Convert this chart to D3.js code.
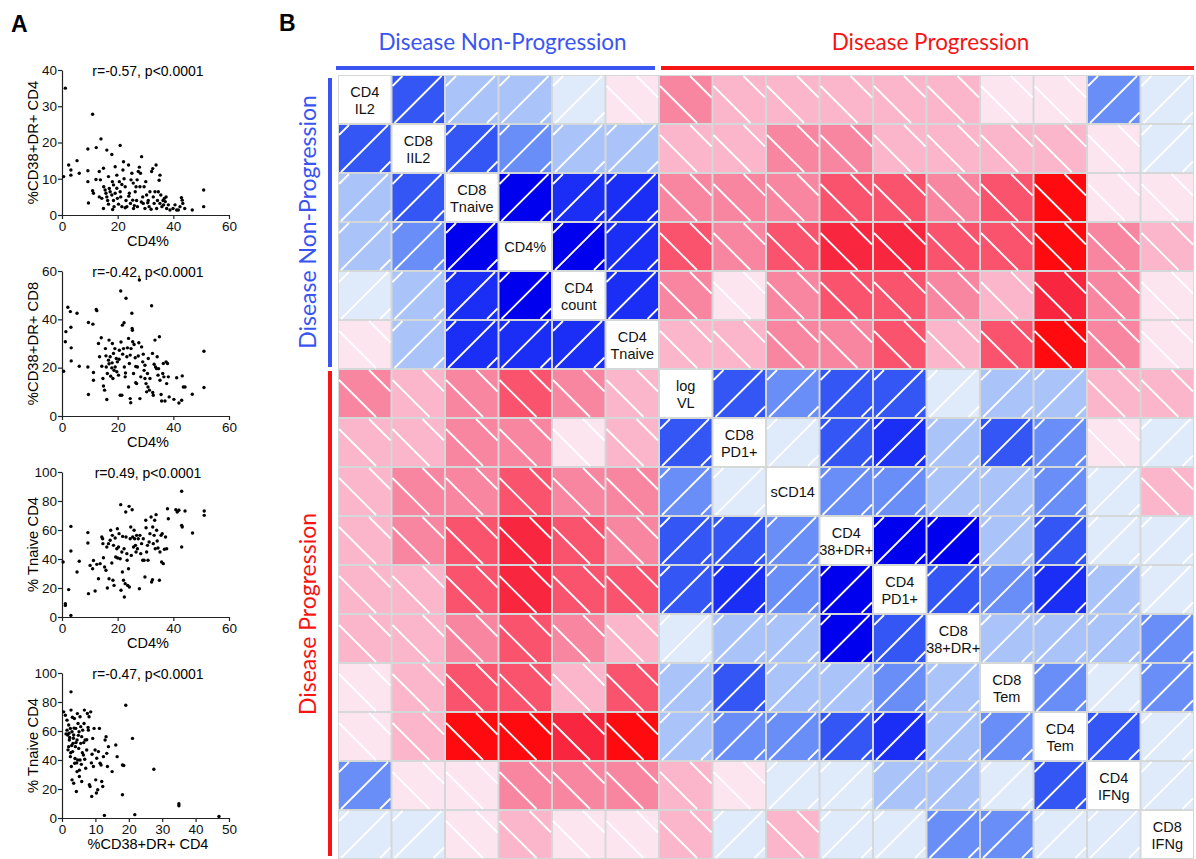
<!DOCTYPE html>
<html><head><meta charset="utf-8">
<script src="https://cdn.jsdelivr.net/npm/d3@7"></script>
<style>body{margin:0;background:#fff}svg{display:block}</style>
</head><body>
<svg id="chart" width="1196" height="859"></svg>
<script>
// ---------------- DATA ----------------
const variables = [["CD4","IL2"],["CD8","IIL2"],["CD8","Tnaive"],["CD4%"],["CD4","count"],["CD4","Tnaive"],
  ["log","VL"],["CD8","PD1+"],["sCD14"],["CD4","38+DR+"],["CD4","PD1+"],["CD8","38+DR+"],
  ["CD8","Tem"],["CD4","Tem"],["CD4","IFNg"],["CD8","IFNg"]];
const groupNames = ["Disease Non-Progression","Disease Progression"];
const groupStart = [0, 6];
const groupEnd = [5, 15];
// correlation estimates (positive = blue "/", negative = red "\")
const corr = [
 [null,.35,.15,.15,.05,-.05,-.25,-.15,-.15,-.15,-.15,-.15,-.05,-.05,.25,.05],
 [.35,null,.35,.25,.15,.15,-.15,-.15,-.25,-.25,-.15,-.15,-.15,-.15,-.05,.05],
 [.15,.35,null,.6,.45,.45,-.25,-.25,-.25,-.35,-.35,-.25,-.35,-.6,-.05,-.05],
 [.15,.25,.6,null,.6,.45,-.35,-.25,-.35,-.45,-.45,-.35,-.35,-.6,-.25,-.15],
 [.05,.15,.45,.6,null,.45,-.25,-.05,-.25,-.35,-.35,-.25,-.15,-.45,-.25,-.05],
 [-.05,.15,.45,.45,.45,null,-.15,-.15,-.25,-.25,-.35,-.15,-.35,-.6,-.25,-.05],
 [-.25,-.15,-.25,-.35,-.25,-.15,null,.35,.25,.35,.35,.05,.15,.15,-.15,-.15],
 [-.15,-.15,-.25,-.25,-.05,-.15,.35,null,.05,.35,.45,.15,.35,.25,-.05,.05],
 [-.15,-.25,-.25,-.35,-.25,-.25,.25,.05,null,.25,.25,.15,.15,.25,.05,-.15],
 [-.15,-.25,-.35,-.45,-.35,-.25,.35,.35,.25,null,.6,.6,.15,.35,.05,.05],
 [-.15,-.15,-.35,-.45,-.35,-.35,.35,.45,.25,.6,null,.35,.25,.45,.15,.05],
 [-.15,-.15,-.25,-.35,-.25,-.15,.05,.15,.15,.6,.35,null,.15,.15,.15,.25],
 [-.05,-.15,-.35,-.35,-.15,-.35,.15,.35,.15,.15,.25,.15,null,.25,.05,.25],
 [-.05,-.15,-.6,-.6,-.45,-.6,.15,.25,.25,.35,.45,.15,.25,null,.35,.05],
 [.25,-.05,-.05,-.25,-.25,-.25,-.15,-.05,.05,.05,.15,.15,.05,.35,null,.05],
 [.05,.05,-.05,-.15,-.05,-.05,-.15,.05,-.15,.05,.05,.25,.25,.05,.05,null]
];
const colorThresholds = [-0.5,-0.4,-0.3,-0.2,-0.1,0,0.1,0.2,0.3,0.4,0.5];
const colorSteps = ["#ff0a0f","#f8273f","#f9536e","#f986a1","#fbb6cb","#fde5ef",
                    "#dfeafb","#aac4f9","#6a8ef8","#3456f5","#1b2ef6","#0000ee"];

// Panel A scatter data: [x, y]
const scatterTitles = ["r=-0.57, p<0.0001","r=-0.42, p<0.0001","r=0.49, p<0.0001","r=-0.47, p<0.0001"];
const scatterXLabels = ["CD4%","CD4%","CD4%","%CD38+DR+ CD4"];
const scatterYLabels = ["%CD38+DR+ CD4","%CD38+DR+ CD8","% Tnaive CD4","% Tnaive CD4"];
const scatterXTicks = [[0,20,40,60],[0,20,40,60],[0,20,40,60],[0,10,20,30,40,50]];
const scatterYTicks = [[0,10,20,30,40],[0,20,40,60],[0,20,40,60,80,100],[0,20,40,60,80,100]];
const cd4pctVsCd4Act = [[1.2,35],[2.4,13.8],[0.6,10.6],[3.2,12.4],[3.2,11],[5.4,15],[6.2,11.5],[9.3,18.2],[9.3,12.2],[9.3,9.2],[9.5,3.3],[11,27.8],[11,6.7],[11.3,6],[12.3,18.6],[12.2,9.8],[13.4,12],[14,21],[14.9,12.9],[13.4,5],[14.3,4.6],[15,7.8],[16.1,17.9],[17.9,16.7],[15.5,6.9],[15.8,6],[16.1,5],[16.4,4],[16.7,3],[17,7.3],[17.3,6.4],[17.9,5.5],[18.1,9.2],[18.5,8.3],[18.5,4],[18.7,2.3],[19.1,6],[19.7,7.4],[19.9,4.6],[20.3,3],[20.6,9.2],[20.9,19.2],[21.1,5],[21.5,2.3],[21.9,12.4],[22.1,14.7],[22.3,10],[22.7,7.8],[23,4],[23.3,2.3],[23.9,13.8],[24.2,6],[24.6,3.2],[24.8,9.7],[25.1,11.5],[25.4,4.1],[25.7,1.8],[26.3,6.4],[26.6,7.8],[26.8,4],[27.1,2.3],[27.4,12],[27.8,13.2],[28,7.8],[28.6,16.1],[29,5],[29.2,3.2],[29.5,7.8],[29.8,1.8],[30.1,9.2],[30.4,5.5],[31,4],[31.3,2.3],[31.6,6.4],[32.2,12],[32.6,12.8],[32.8,5],[33.1,3.2],[33.4,6.4],[33.8,13.8],[34,1.8],[34.3,4],[34.6,6.4],[34.9,9.6],[35.2,3.2],[35.5,5.5],[35.9,2.3],[36.3,4],[36.5,2.8],[37.1,3.7],[37.4,5],[37.6,1.8],[38.2,2.8],[38.8,1.4],[39.9,1.8],[40.6,2.8],[41.2,1.4],[41.8,1.4],[42.4,2.3],[42.9,4.8],[43.2,4.1],[43.4,3.2],[44.1,1.8],[46.8,1.4],[50.9,6.9],[50.9,2.3],[35.2,11],[27,9.7],[28.2,11.5],[19.7,11],[19.1,13.3],[16.7,10.6],[13.8,9.7],[14.9,1.8],[20.9,6.4],[22.7,2],[24,5.2],[26,2.6],[30.8,3.4],[32,1.6],[36.8,4.6],[28.5,3.6],[21.5,8.4],[18.2,1.5],[25.6,8.8]];
const cd4pctVsCd8Act = [[0.6,18.5],[1.2,30.7],[1.4,34.9],[2.1,45],[3,43.2],[3.2,36.7],[3.3,28.2],[3.3,22.8],[5.4,42.5],[6.2,20.6],[9.5,38.7],[9.3,20.3],[9.5,8.9],[11.1,38],[11.3,18],[11.3,14.8],[12.3,44.1],[12.5,43.6],[13.1,30],[13.5,24.5],[14.1,32.4],[14.3,20.6],[14.7,15.5],[14.9,12.4],[15.3,10.7],[15.8,24.9],[15.9,20.3],[16.1,6.8],[16.3,17.6],[16.7,23.1],[16.9,31.4],[17.3,24.5],[17.5,16.5],[17.9,19.9],[18.1,30],[18.3,15.5],[18.5,25.9],[18.7,18.9],[19.1,20.3],[19.5,23.8],[19.7,18.3],[19.9,22.4],[20.3,16.9],[20.6,27.2],[20.9,8.6],[21.1,51.7],[21.5,8.6],[21.7,37.6],[21.8,25.6],[22.1,27.9],[22.3,38.6],[22.4,20.3],[22.7,16.2],[23,48.7],[23.3,24.5],[23.5,28.2],[23.9,32.1],[23.9,12],[24.2,21.7],[24.5,7.2],[24.7,5.5],[24.8,27.9],[25.1,42.5],[25.2,36.2],[25.3,35.5],[25.4,30.7],[25.7,17.6],[25.9,29.6],[26.3,24.1],[26.5,13.8],[26.8,13.4],[27.1,20.3],[27.4,24.8],[27.8,56.3],[28,7.2],[28.3,16.2],[28.6,28.6],[29,22.4],[29.2,25.6],[29.5,18.9],[29.8,15.5],[30.2,13.4],[30.4,10],[30.7,17.6],[30.9,12],[31.4,10.7],[31.6,15.5],[32.2,45.6],[32.5,25.9],[32.6,9.7],[32.8,8.6],[33.1,21.4],[33.4,31.4],[33.6,20.3],[34,19.6],[34.2,24.5],[34.5,16.9],[34.7,19.6],[35,32.8],[35.2,14.8],[35.6,8.9],[35.8,6.2],[36.2,17.6],[36.4,21.7],[36.6,16.2],[37,6.2],[37.4,22.4],[37.6,13.4],[37.9,21.7],[38.2,16.2],[38.5,7.9],[40.2,6.9],[41.2,15.8],[42,5.4],[43,6.5],[43.2,16.6],[43.6,12],[44.2,12],[46.8,9],[51,26.8],[51,11.8],[15.6,27.9],[19,27.9],[20.5,23.5],[18,22],[26.5,20.5],[22.8,17.8],[29.8,21],[31,23.8],[24.5,25.2],[27.6,30.3],[21.2,30.6],[16.9,21.6]];
const cd4pctVsCd4Naive = [[0.4,37.9],[1.2,9.2],[1.2,8],[2.4,18.9],[3.2,62.5],[3.2,45.5],[3.2,1.1],[5.4,31],[6.2,38.4],[9.3,58.2],[9.3,51],[9.5,16.1],[10.1,35.6],[11,33.3],[11.3,39],[11.9,17.9],[12.5,36.3],[13.1,26.4],[13.7,36.8],[14.3,55.2],[14.6,54],[14.7,50.6],[14.9,40.9],[15.3,34.5],[15.8,32.2],[16.1,48.3],[16.3,20],[16.7,50.6],[16.9,26.4],[17.3,52.9],[17.5,59.8],[17.9,37.2],[18.1,56.3],[18.3,25.3],[18.5,49.4],[18.7,21.8],[19.1,54.5],[19.3,41.4],[19.7,47.1],[19.9,60.9],[20,40.7],[20.3,48.3],[20.5,57.5],[20.9,40.2],[21.1,77.5],[21.2,18.4],[21.5,44.8],[21.7,31],[21.8,55.6],[22.1,25.3],[22.3,47.1],[22.4,13.8],[22.7,23],[22.9,72.4],[23,55.2],[23.3,43.7],[23.4,39.1],[23.6,21.8],[23.9,33.3],[24.1,76.3],[24.2,20.7],[24.5,54],[24.7,62.1],[24.9,42.5],[25.2,74],[25.4,55.2],[25.7,48.3],[25.9,59.8],[26.1,54],[26.4,49.4],[26.6,44.8],[26.8,56.3],[27.1,47.1],[27.4,54],[27.8,19.5],[28,56.3],[28.3,43.7],[28.6,50.6],[29,39.1],[29.2,54],[29.5,39.1],[29.8,27.6],[30.1,66.7],[30.2,61.6],[30.4,44.8],[30.7,49.4],[30.9,39.1],[31.3,51.7],[31.6,57.5],[32,69],[32.2,24.1],[32.5,25.7],[32.6,62.1],[32.8,50.6],[33.1,56.3],[33.3,66.7],[33.5,47.1],[33.8,70.6],[34,59.8],[34.2,52.4],[34.5,47.6],[35,25.3],[35.2,44.8],[35.6,56.3],[35.8,37.9],[36,57.5],[36.4,36.8],[36.8,46.7],[37.2,55.2],[37.6,47.1],[37.9,74.7],[38.2,67.8],[40.9,74],[41.4,72.4],[42,73.6],[43,86.7],[43,63.2],[43.2,62.1],[43,48.3],[44.2,73.1],[46.9,57.9],[51.1,73.1],[51.1,70.1]];
const cd4ActVsCd4Naive = [[0.5,73.2],[1,70.9],[1.5,67.5],[1.5,60.6],[1.7,57.2],[2,64.1],[2,49.2],[2.2,53.8],[2.5,61.8],[2.5,42.3],[2.7,87],[2.7,74.4],[2.8,35.5],[3,59.5],[3,26.3],[3.2,45.8],[3.3,51.5],[3.5,57.2],[3.5,24],[3.7,68.6],[3.8,37.8],[4,49.2],[4.1,61.8],[4.3,18.3],[4.5,53.8],[4.5,32],[4.7,40],[4.8,65.2],[5,48],[5.1,59.5],[5.2,28.6],[5.4,69.8],[5.4,40],[5.6,51.5],[5.9,56.1],[5.9,25.2],[6.2,60.6],[6.4,43.5],[6.6,65.2],[6.7,74.4],[6.9,53.8],[7.1,34.3],[7.4,46.9],[7.6,72.1],[7.9,60.6],[8.1,69.8],[8.2,22.9],[8.4,21.7],[8.6,73.2],[8.9,14.9],[9.2,54.9],[9.4,35.5],[9.6,61.8],[9.9,46.9],[10.1,26.3],[10.3,17.2],[10.4,41.2],[10.7,19.5],[10.9,45.8],[11.2,61.8],[11.4,37.8],[11.7,36.6],[11.9,25.2],[12.2,21.7],[12.4,42.3],[12.7,1.8],[12.9,53.8],[13.2,56.1],[13.4,44.6],[13.6,35.5],[13.9,49.2],[15,32],[16.1,50.3],[16.5,42.3],[18.1,36.6],[18.5,36.2],[18.1,16],[19.1,77.8],[21.1,54.9],[21.8,2.3],[27.5,33.6],[35,9.8],[35,8.5],[47,1.1],[1.2,58],[2.3,55.5],[3.6,62],[4.2,52],[1.8,47],[2.6,45],[3.1,69.5],[4.6,72],[5.6,63],[6.1,45],[3.9,41],[4.4,38],[7.4,54],[8.8,38],[6.8,40.5],[5.2,33],[2.1,58.5],[3.4,55],[4.9,57],[6.5,52],[2.9,50],[7.8,62.5],[9,44],[5.8,37]];
const scatterSets = [cd4pctVsCd4Act, cd4pctVsCd8Act, cd4pctVsCd4Naive, cd4ActVsCd4Naive];

// ---------------- DRAW ----------------
const svg = d3.select("#chart");
const sans = "'Liberation Sans', Arial, sans-serif";
const titleFont = "Lato, 'Open Sans', sans-serif";
const BLUE = "#3a54f2", RED = "#f51515";

svg.append("text").attr("x", 11).attr("y", 32).attr("font-family", sans).attr("font-weight", "bold")
  .attr("font-size", 23).text("A");
svg.append("text").attr("x", 279).attr("y", 31).attr("font-family", sans).attr("font-weight", "bold")
  .attr("font-size", 23).text("B");

// Panel A
const plotTops = [70, 271, 472, 673];
const plotH = 145;
scatterSets.forEach((pts, k) => {
  const xt = scatterXTicks[k], yt = scatterYTicks[k];
  const x = d3.scaleLinear().domain([xt[0], xt[xt.length - 1]]).range([62, 229]);
  const y = d3.scaleLinear().domain([yt[0], yt[yt.length - 1]]).range([plotTops[k] + plotH, plotTops[k]]);
  const g = svg.append("g");
  const ax = g.append("g").attr("transform", `translate(0,${plotTops[k] + plotH})`)
    .call(d3.axisBottom(x).tickValues(xt).tickSize(4).tickSizeOuter(0).tickPadding(2));
  const ay = g.append("g").attr("transform", "translate(62,0)")
    .call(d3.axisLeft(y).tickValues(yt).tickSize(4).tickSizeOuter(0).tickPadding(1));
  [ax, ay].forEach(a => {
    a.selectAll("text").attr("font-family", sans).attr("font-size", 13.5).attr("fill", "#111");
    a.selectAll("path,line").attr("stroke", "#222").attr("stroke-width", 1.2);
  });
  g.append("g").selectAll("circle").data(pts).join("circle")
    .attr("cx", d => x(d[0])).attr("cy", d => y(d[1])).attr("r", 1.7).attr("fill", "#000");
  g.append("text").attr("x", 148).attr("y", plotTops[k] + 6).attr("text-anchor", "middle")
    .attr("font-family", sans).attr("font-size", 14).text(scatterTitles[k]);
  g.append("text").attr("x", 148).attr("y", plotTops[k] + plotH + 31).attr("text-anchor", "middle")
    .attr("font-family", sans).attr("font-size", 14.5).text(scatterXLabels[k]);
  g.append("text").attr("transform", `translate(33,${plotTops[k] + plotH / 2}) rotate(-90)`)
    .attr("text-anchor", "middle").attr("dy", "0.35em")
    .attr("font-family", sans).attr("font-size", 14.8).text(scatterYLabels[k]);
});

// Panel B
const n = variables.length;
const xb = d3.scaleBand().domain(d3.range(n)).range([338, 1194]);
const yb = d3.scaleBand().domain(d3.range(n)).range([75, 859]);
const color = d3.scaleThreshold().domain(colorThresholds).range(colorSteps);
const bw = xb.bandwidth(), bh = yb.bandwidth();

svg.append("rect").attr("x", 338).attr("y", 75).attr("width", 856).attr("height", 784).attr("fill", "#d5d8d8");

const cells = [];
corr.forEach((row, i) => row.forEach((v, j) => cells.push({ i, j, v })));
const cg = svg.append("g");
cells.forEach(c => {
  const x0 = xb(c.j) + 1, y0 = yb(c.i) + 1, w = bw - 2, h = bh - 2;
  cg.append("rect").attr("x", x0).attr("y", y0).attr("width", w).attr("height", h)
    .attr("fill", c.v === null ? "#fff" : color(c.v));
  if (c.v === null) {
    const lines = variables[c.i];
    const t = cg.append("text").attr("x", x0 + w / 2).attr("text-anchor", "middle")
      .attr("font-family", sans).attr("font-size", 14.5).attr("fill", "#111");
    if (lines.length === 1) {
      t.attr("y", y0 + h / 2 + 5).text(lines[0]);
    } else {
      t.append("tspan").attr("x", x0 + w / 2).attr("y", y0 + h / 2 - 3).text(lines[0]);
      t.append("tspan").attr("x", x0 + w / 2).attr("y", y0 + h / 2 + 14).text(lines[1]);
    }
    return;
  }
  const segs = [];
  if (c.v > 0) {
    [10, 49, 88].forEach(k => {
      const xa = Math.max(0, k - h), xe = Math.min(w, k);
      if (xe > xa) segs.push([xa, k - xa, xe, k - xe]);
    });
  } else {
    [-30, 10].forEach(k => {
      const xa = Math.max(0, -k), xe = Math.min(w, h - k);
      if (xe > xa) segs.push([xa, xa + k, xe, xe + k]);
    });
  }
  segs.forEach(s => cg.append("line").attr("x1", x0 + s[0]).attr("y1", y0 + s[1])
    .attr("x2", x0 + s[2]).attr("y2", y0 + s[3]).attr("stroke", "#fff").attr("stroke-width", 1.8));
});

// group brackets and titles
const gcol = [BLUE, RED];
groupNames.forEach((name, k) => {
  const xs = xb(groupStart[k]), xe = xb(groupEnd[k]) + bw;
  const ys = yb(groupStart[k]), ye = yb(groupEnd[k]) + bh;
  svg.append("rect").attr("x", xs - (k === 0 ? 2 : -2)).attr("y", 66).attr("width", xe - xs - 2)
    .attr("height", 4).attr("fill", gcol[k]);
  svg.append("rect").attr("x", 328).attr("y", ys + (k === 0 ? 3 : 2)).attr("width", 4)
    .attr("height", ye - ys - 5).attr("fill", gcol[k]);
  svg.append("text").attr("x", (xs + xe) / 2 + 4).attr("y", 50).attr("text-anchor", "middle")
    .attr("font-family", titleFont).attr("font-size", 22.5).attr("fill", gcol[k]).text(name);
  svg.append("text").attr("transform", `translate(308,${(ys + ye) / 2}) rotate(-90)`)
    .attr("text-anchor", "middle").attr("dy", "0.35em")
    .attr("font-family", titleFont).attr("font-size", 23).attr("fill", gcol[k]).text(name);
});
</script>
</body></html>
